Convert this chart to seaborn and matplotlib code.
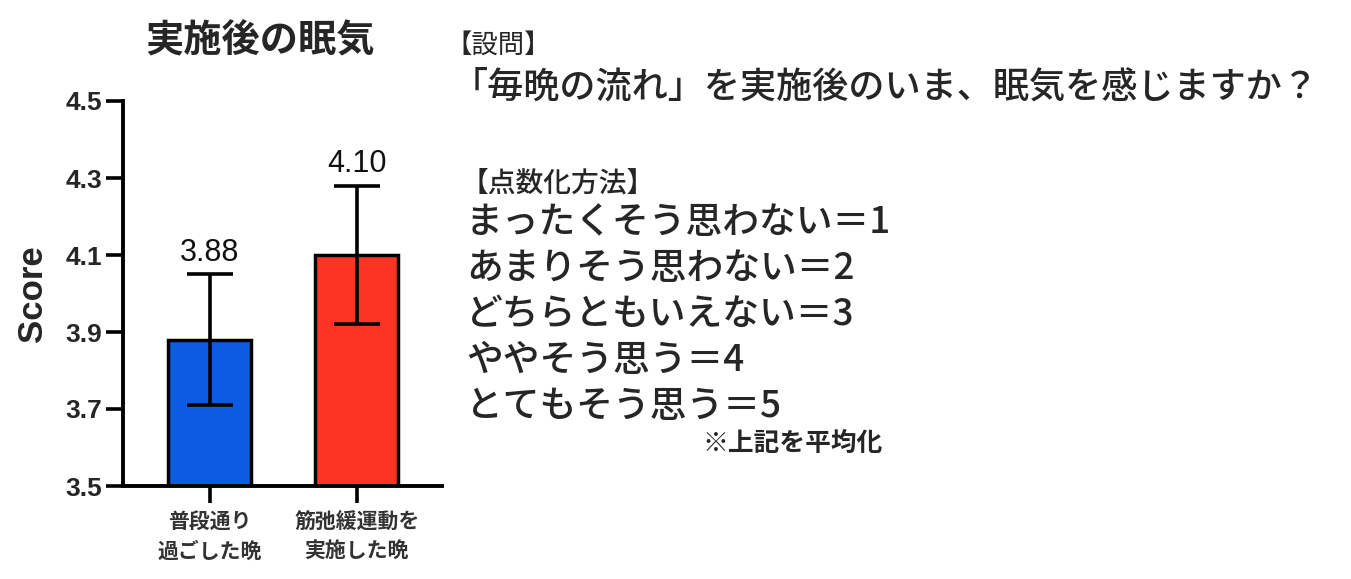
import matplotlib
matplotlib.use("Agg")
import matplotlib.pyplot as plt
import seaborn as sns
import pandas as pd

# ---- data ----
categories = ["普段通り\n過ごした晩", "筋弛緩運動を\n実施した晩"]
means = [3.88, 4.10]
errors = [0.17, 0.18]
value_labels = ["3.88", "4.10"]
bar_colors = ["#0B5BE3", "#FF3322"]
yticks = [3.5, 3.7, 3.9, 4.1, 4.3, 4.5]
ytick_labels = ["3.5", "3.7", "3.9", "4.1", "4.3", "4.5"]
chart_title = "実施後の眠気"
y_label = "Score"
question_head = "【設問】"
question = "「毎晩の流れ」を実施後のいま、眠気を感じますか？"
method_head = "【点数化方法】"
method_lines = [
    "まったくそう思わない＝1",
    "あまりそう思わない＝2",
    "どちらともいえない＝3",
    "ややそう思う＝4",
    "とてもそう思う＝5",
]
note = "※上記を平均化"

sns.set_theme(style="ticks")
plt.rcParams['font.family'] = ['Liberation Sans', 'Noto Sans CJK JP', 'DejaVu Sans']
JP = ['Noto Sans CJK JP', 'DejaVu Sans']

W, H = 1351, 579
fig = plt.figure(figsize=(W / 100, H / 100), dpi=100)
ax = fig.add_axes([123 / W, 93 / H, 319 / W, 385 / H])

df = pd.DataFrame({"cat": categories, "score": means})
sns.barplot(data=df, x="cat", y="score", hue="cat", palette=bar_colors,
            legend=False, width=0.565, edgecolor="black", linewidth=2.5,
            errorbar=None, ax=ax, saturation=1, zorder=2)

ax.errorbar(x=list(range(len(means))), y=means, yerr=errors, fmt="none",
            ecolor="black", elinewidth=2.6, capsize=16.5, capthick=2.6, zorder=3)

for i, (m, e, lab) in enumerate(zip(means, errors, value_labels)):
    ax.text(i, m + e + 0.035, lab, ha="center", va="baseline", fontsize=22,
            color="#111111")

ax.set_xlim(-0.59, 1.58)
ax.set_ylim(3.5, 4.5)
ax.set_yticks(yticks)
ax.set_yticklabels(ytick_labels, fontsize=19, fontweight="bold")
ax.set_xticks(range(len(categories)))
ax.set_xticklabels(categories, family=JP, fontsize=15, fontweight="bold",
                   color="#333333", linespacing=1.5)
ax.set_xlabel("")
ax.set_ylabel(y_label, fontsize=25, fontweight="bold", labelpad=12)
sns.despine(ax=ax)
for s in ["left", "bottom"]:
    ax.spines[s].set_linewidth(2.8)
    ax.spines[s].set_color("black")
ax.tick_params(axis="both", length=12, width=2.6, color="black", direction="out")
ax.tick_params(axis="y", pad=3)
ax.tick_params(axis="x", pad=6)

fig.text(260 / W, 1 - 40 / H, chart_title, family=JP, fontsize=27.5,
         fontweight="bold", ha="center", va="center")

fig.text(445 / W, 1 - 45 / H, question_head, family=JP, fontsize=19,
         ha="left", va="center")
fig.text(452 / W, 1 - 88 / H, question, family=JP, fontsize=26,
         fontweight="medium", ha="left", va="center")
fig.text(461 / W, 1 - 183 / H, method_head, family=JP, fontsize=20,
         fontweight="medium", ha="left", va="center")
for k, line in enumerate(method_lines):
    fig.text(466 / W, 1 - (222 + 46 * k) / H, line, family=JP, fontsize=26.5,
             fontweight="medium", ha="left", va="center")
fig.text(702 / W, 1 - 443 / H, note, family=JP, fontsize=18.5,
         fontweight="bold", ha="left", va="center")

fig.savefig("out.png", dpi=100)
